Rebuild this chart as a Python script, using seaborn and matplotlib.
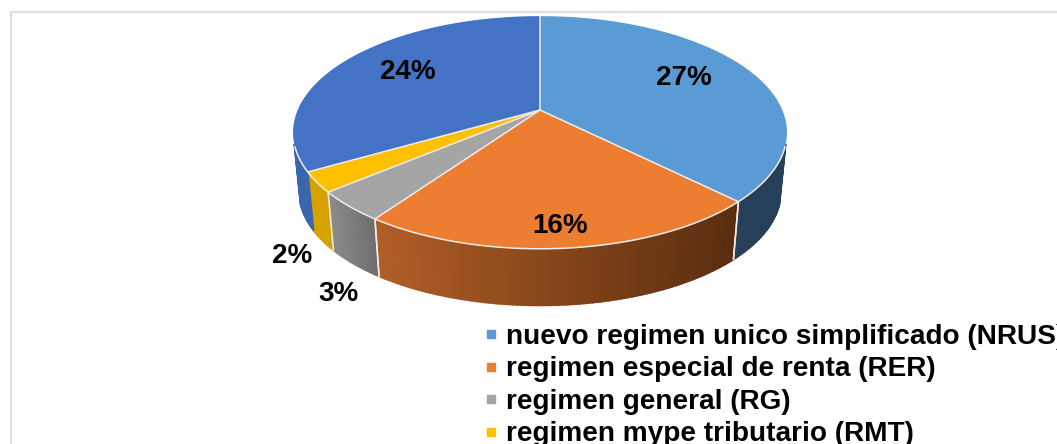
import matplotlib
matplotlib.use('Agg')
import matplotlib.pyplot as plt
from matplotlib.lines import Line2D
from matplotlib.colors import to_rgb
import numpy as np
import seaborn as sns

# values as printed on the chart
categories = ['nuevo regimen unico simplificado (NRUS)',
              'regimen especial de renta (RER)',
              'regimen general (RG)',
              'regimen mype tributario (RMT)',
              'otros']
values = [27, 16, 3, 2, 24]
labels = ['27%', '16%', '3%', '2%', '24%']
label_pos = [(684, 78), (560, 226), (338, 294), (292, 256), (408, 72)]

top_colors = ['#5B9BD5', '#ED7D31', '#A5A5A5', '#FFC000', '#4472C4']
wall_left = ['#264059', '#B25E26', '#8C8C8C', '#D6A200', '#3A66AE']
wall_right = ['#264059', '#5A2D10', '#6E6E6E', '#D6A200', '#3A66AE']
edge = '#EDEDED'

sns.set_theme(style='white')
plt.rcParams['font.family'] = ['Liberation Sans', 'DejaVu Sans']


# tilted disc, theta clockwise from twelve o'clock
def rim(theta):
    u, v = np.sin(theta), np.cos(theta)
    w = 1 + 0.193 * v
    return 540 + 242.3 * u / w, 110 - 112 * v / w


def lower(x, y):
    return 540 + 0.975 * (x - 540), 110 + 60 + 0.975 * (y - 110)


fig, ax = plt.subplots(figsize=(10.57, 4.44), dpi=100)
fig.subplots_adjust(0, 0, 1, 1)
ax.set_xlim(0, 1057)
ax.set_ylim(444, 0)
ax.axis('off')

# chart frame
ax.plot([11, 11, 1057], [444, 12, 12], color='#DEDEDE', lw=1.6)

cuts = np.cumsum([0] + values) / sum(values) * 2 * np.pi

# side wall
for i in range(len(values)):
    th = np.linspace(cuts[i], cuts[i + 1], int(values[i] * 6) + 2)
    x, y = rim(th)
    xb, yb = lower(x, y)
    lo, hi = x.min(), x.max()
    c0, c1 = np.array(to_rgb(wall_left[i])), np.array(to_rgb(wall_right[i]))
    for j in range(len(th) - 1):
        if np.cos(th[j]) > -0.3 and np.cos(th[j + 1]) > -0.3:
            continue
        t = (x[j] - lo) / max(hi - lo, 1)
        ax.fill([x[j], x[j + 1], xb[j + 1], xb[j]],
                [y[j], y[j + 1], yb[j + 1], yb[j]],
                color=c0 + (c1 - c0) * t, lw=1.3, zorder=2)
    # seams between front walls
    for k in (0, -1):
        if np.cos(th[k]) < 0 and i < 3:
            ax.plot([x[k], xb[k]], [y[k], yb[k]], color=edge, lw=1.1, zorder=3)

# top face
for i in range(len(values)):
    th = np.linspace(cuts[i], cuts[i + 1], 200)
    x, y = rim(th)
    ax.fill(np.r_[540, x], np.r_[110, y], facecolor=top_colors[i], lw=0, zorder=4)
    ax.plot([540, x[0]], [110, y[0]], color=edge, lw=1.1, zorder=5)
    front = np.cos(th) < -0.3
    ax.plot(x[front], y[front], color=edge, lw=1.1, zorder=5)

for txt, (px, py) in zip(labels, label_pos):
    ax.text(px, py, txt, ha='center', va='center', fontsize=20,
            fontweight='bold', color='black', zorder=6)

handles = [Line2D([], [], ls='', marker='s', ms=6, color=top_colors[i],
                  label=categories[i]) for i in range(4)]
ax.legend(handles=handles, loc='upper left', bbox_to_anchor=(484, 324),
          bbox_transform=ax.transData, frameon=False, handlelength=0.5,
          handletextpad=0.27, labelspacing=0.23, borderpad=0, borderaxespad=0,
          labelcolor='black', prop={'size': 20.15, 'weight': 'bold'})

fig.savefig('out.png', dpi=100)
